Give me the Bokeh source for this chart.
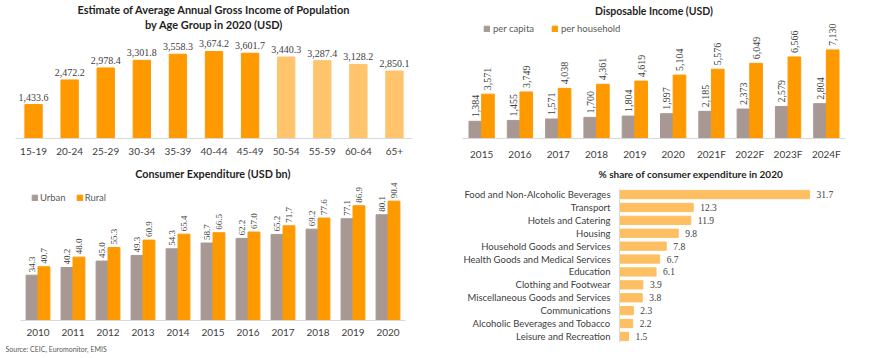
from math import pi
from bokeh.plotting import figure
from bokeh.models import ColumnDataSource, FactorRange, Range1d, LabelSet, Title, Legend, LegendItem
from bokeh.transform import dodge
from bokeh.layouts import column, row
from bokeh.embed import file_html
from bokeh.resources import INLINE

# ---------------- data ----------------
age_groups = ["15-19", "20-24", "25-29", "30-34", "35-39", "40-44", "45-49",
              "50-54", "55-59", "60-64", "65+"]
age_income = [1433.6, 2472.2, 2978.4, 3301.8, 3558.3, 3674.2, 3601.7,
              3440.3, 3287.4, 3128.2, 2850.1]

di_years = ["2015", "2016", "2017", "2018", "2019", "2020",
            "2021F", "2022F", "2023F", "2024F"]
di_per_capita = [1384, 1455, 1571, 1700, 1804, 1997, 2185, 2373, 2579, 2804]
di_per_household = [3571, 3749, 4038, 4361, 4619, 5104, 5576, 6049, 6566, 7130]

ce_years = ["2010", "2011", "2012", "2013", "2014", "2015",
            "2016", "2017", "2018", "2019", "2020"]
ce_urban = [34.3, 40.2, 45.0, 49.3, 54.3, 58.7, 62.2, 65.2, 69.2, 77.1, 80.1]
ce_rural = [40.7, 48.0, 55.3, 60.9, 65.4, 66.5, 67.0, 71.7, 77.6, 86.9, 90.4]

share_categories = ["Food and Non-Alcoholic Beverages", "Transport",
                    "Hotels and Catering", "Housing",
                    "Household Goods and Services",
                    "Health Goods and Medical Services", "Education",
                    "Clothing and Footwear", "Miscellaneous Goods and Services",
                    "Communications", "Alcoholic Beverages and Tobacco",
                    "Leisure and Recreation"]
share_values = [31.7, 12.3, 11.9, 9.8, 7.8, 6.7, 6.1, 3.9, 3.8, 2.3, 2.2, 1.5]

source_note = "Source: CEIC, Euromonitor, EMIS"

# ---------------- style ----------------
FONT = "Lato"
ORANGE = "#FF9900"
LIGHT_ORANGE = "#FFC46C"
GRAY = "#A89894"
SHARE = "#FDBF62"
TXT = "#404040"
AXIS = "#D9D9D9"
TITLE_COLOR = "#1F1F1F"


def base_fig(w, h, xr, yr, ml, mr, mt, mb):
    p = figure(width=w, height=h, x_range=xr, y_range=yr,
               output_backend="svg", toolbar_location=None,
               min_border_left=ml, min_border_right=mr,
               min_border_top=mt, min_border_bottom=mb)
    p.frame_align = False
    p.outline_line_color = None
    p.grid.visible = False
    p.background_fill_color = "white"
    p.border_fill_color = "white"
    return p


def style_axis(ax, standoff, size="9.5px"):
    ax.axis_line_color = AXIS
    ax.major_tick_line_color = None
    ax.minor_tick_line_color = None
    ax.major_tick_out = 0
    ax.major_tick_in = 0
    ax.major_label_text_font = FONT
    ax.major_label_text_font_size = size
    ax.major_label_text_color = TXT
    ax.major_label_standoff = standoff


def style_title(t, standoff, size="10px"):
    t.text_font = FONT
    t.text_font_size = size
    t.text_font_style = "bold"
    t.text_color = TITLE_COLOR
    t.standoff = standoff


# ---------------- chart 1: income by age ----------------
p1 = base_fig(435, 163, FactorRange(*age_groups), Range1d(0, 4560), 15, 23, 28, 25)
p1.title = None
t1b = Title(text="by Age Group in 2020 (USD)", align="center")
style_title(t1b, 0, "11px")
p1.add_layout(t1b, "above")
t1a = Title(text="Estimate of Average Annual Gross Income of Population", align="center")
style_title(t1a, 0, "11px")
p1.add_layout(t1a, "above")
src1 = ColumnDataSource(dict(
    x=age_groups, y=age_income,
    lbl=[f"{v:,.1f}" for v in age_income],
    color=[ORANGE if i < 7 else LIGHT_ORANGE for i in range(len(age_groups))]))
p1.vbar(x="x", top="y", width=0.48, color="color", source=src1)
p1.add_layout(LabelSet(x="x", y="y", text="lbl", source=src1, y_offset=4,
                       text_align="center", text_baseline="bottom",
                       text_font=FONT, text_font_size="10px", text_color=TXT))
p1.yaxis.visible = False
style_axis(p1.xaxis[0], 9, "10px")

# ---------------- chart 2: disposable income ----------------
p2 = base_fig(435, 163, FactorRange(*di_years), Range1d(0, 9660), 27, 25, 18, 25)
p2.title.text = "Disposable Income (USD)"
p2.title.align = "center"
style_title(p2.title, 4, "10.5px")
src2 = ColumnDataSource(dict(
    x=di_years, pc=di_per_capita, ph=di_per_household,
    pcl=[f"{v:,}" for v in di_per_capita],
    phl=[f"{v:,}" for v in di_per_household]))
r2a = p2.vbar(x=dodge("x", -0.165, range=p2.x_range), top="pc", width=0.33,
              color=GRAY, source=src2)
r2b = p2.vbar(x=dodge("x", 0.165, range=p2.x_range), top="ph", width=0.33,
              color=ORANGE, source=src2)
for col, lab, off in (("pc", "pcl", -0.165), ("ph", "phl", 0.165)):
    p2.add_layout(LabelSet(x=dodge("x", off, range=p2.x_range), y=col, text=lab,
                           source=src2, angle=pi / 2, y_offset=4,
                           text_align="left", text_baseline="middle",
                           text_font=FONT, text_font_size="10px", text_color=TXT))
p2.yaxis.visible = False
style_axis(p2.xaxis[0], 9, "10px")
leg2 = Legend(items=[LegendItem(label="per capita", renderers=[r2a]),
                     LegendItem(label="per household", renderers=[r2b])],
              orientation="horizontal", location=(21, 104),
              glyph_width=7, glyph_height=7, label_standoff=3, spacing=17,
              padding=0, margin=0, border_line_color=None,
              background_fill_alpha=0, label_text_font=FONT,
              label_text_font_size="9.5px", label_text_color="#595959",
              label_height=9)
p2.add_layout(leg2)

# ---------------- chart 3: consumer expenditure ----------------
p3 = base_fig(435, 195, FactorRange(*ce_years), Range1d(0, 106.8), 20, 30, 16, 38)
p3.title.text = "Consumer Expenditure (USD bn)"
p3.title.align = "center"
style_title(p3.title, 0, "10.8px")
src3 = ColumnDataSource(dict(
    x=ce_years, u=ce_urban, r=ce_rural,
    ul=[f"{v:.1f}" for v in ce_urban],
    rl=[f"{v:.1f}" for v in ce_rural]))
r3a = p3.vbar(x=dodge("x", -0.17, range=p3.x_range), top="u", width=0.34,
              color=GRAY, source=src3)
r3b = p3.vbar(x=dodge("x", 0.17, range=p3.x_range), top="r", width=0.34,
              color=ORANGE, source=src3)
for col, lab, off in (("u", "ul", -0.17), ("r", "rl", 0.17)):
    p3.add_layout(LabelSet(x=dodge("x", off, range=p3.x_range), y=col, text=lab,
                           source=src3, angle=pi / 2, y_offset=3,
                           text_align="left", text_baseline="middle",
                           text_font=FONT, text_font_size="9px", text_color=TXT))
p3.yaxis.visible = False
style_axis(p3.xaxis[0], 8, "10px")
leg3 = Legend(items=[LegendItem(label="Urban", renderers=[r3a]),
                     LegendItem(label="Rural", renderers=[r3b])],
              orientation="horizontal", location=(11, 117),
              glyph_width=7, glyph_height=7, label_standoff=2, spacing=10,
              padding=0, margin=0, border_line_color=None,
              background_fill_alpha=0, label_text_font=FONT,
              label_text_font_size="9.5px", label_text_color="#595959",
              label_height=9)
p3.add_layout(leg3)
src_title = Title(text=source_note, align="left", offset=-15, standoff=8,
                  text_font=FONT, text_font_size="7px", text_font_style="normal",
                  text_color="#595959")
p3.add_layout(src_title, "below")

# ---------------- chart 4: share of expenditure ----------------
yr4 = FactorRange(*reversed(share_categories), range_padding=0.665,
                  range_padding_units="absolute")
p4 = base_fig(435, 195, Range1d(0, 37.7), yr4, 184, 25, 16, 7)
p4.title.text = "% share of consumer expenditure in 2020"
p4.title.align = "left"
p4.title.offset = -21
style_title(p4.title, 0, "10px")
src4 = ColumnDataSource(dict(y=share_categories, v=share_values,
                             lbl=[f"{v:.1f}" for v in share_values]))
p4.hbar(y="y", right="v", left=0, height=0.64, color=SHARE, source=src4)
p4.add_layout(LabelSet(x="v", y="y", text="lbl", source=src4, x_offset=7,
                       text_align="left", text_baseline="middle",
                       text_font=FONT, text_font_size="9.5px", text_color=TXT))
p4.xaxis.visible = False
style_axis(p4.yaxis[0], 9, "9.5px")
p4.yaxis[0].bounds = (0, 12)

layout = column(row(p1, p2), row(p3, p4))

with open("out.html", "w") as f:
    f.write(file_html(layout, INLINE))
